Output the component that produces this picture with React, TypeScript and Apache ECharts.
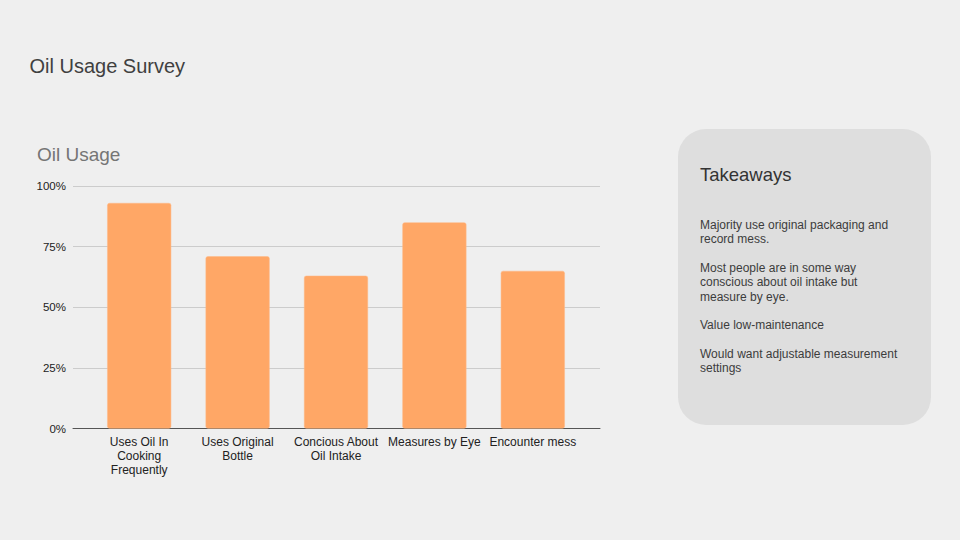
import React, { useEffect, useRef } from "react";
import * as echarts from "echarts";

const categories = [
  "Uses Oil In\nCooking\nFrequently",
  "Uses Original\nBottle",
  "Concious About\nOil Intake",
  "Measures by Eye",
  "Encounter mess",
];
const values = [0.93, 0.71, 0.63, 0.85, 0.65];
const slideTitle = "Oil Usage Survey";
const chartTitle = "Oil Usage";
const boxTitle = "Takeaways";
const takeaways = [
  "Majority use original packaging and\nrecord mess.",
  "Most people are in some way\nconscious about oil intake but\nmeasure by eye.",
  "Value low-maintenance",
  "Would want adjustable measurement\nsettings",
];

const FONT = "Liberation Sans, Arial, sans-serif";

export default function App() {
  const ref = useRef<HTMLDivElement>(null);
  useEffect(() => {
    if (!ref.current) return;
    const chart = echarts.init(ref.current, undefined, { renderer: "svg" });
    const top = 186;
    const bottom = 540 - 428.5;
    chart.setOption({
      animation: false,
      backgroundColor: "#efefef",
      textStyle: { fontFamily: FONT },
      grid: [
        { left: 73, right: 360, top, bottom },
        { left: 90, right: 378, top, bottom },
      ],
      xAxis: [
        {
          gridIndex: 0,
          type: "category",
          data: categories,
          axisLabel: { show: false },
          axisTick: { show: false },
          axisLine: { lineStyle: { color: "#555", width: 1 } },
        },
        {
          gridIndex: 1,
          type: "category",
          data: categories,
          axisTick: { show: false },
          axisLine: { show: false },
          axisLabel: {
            color: "#222",
            fontSize: 12,
            fontFamily: FONT,
            lineHeight: 14,
            margin: 6.5,
            interval: 0,
          },
        },
      ],
      yAxis: [
        {
          gridIndex: 0,
          type: "value",
          min: 0,
          max: 1,
          interval: 0.25,
          axisLabel: {
            color: "#222",
            fontSize: 11.5,
            fontFamily: FONT,
            margin: 7,
            formatter: (v: number) => Math.round(v * 100) + "%",
          },
          splitLine: { lineStyle: { color: "#cccccc", width: 1 } },
          axisLine: { show: false },
          axisTick: { show: false },
        },
        {
          gridIndex: 1,
          type: "value",
          min: 0,
          max: 1,
          show: false,
          splitLine: { show: false },
        },
      ],
      series: [
        {
          type: "bar",
          xAxisIndex: 1,
          yAxisIndex: 1,
          data: values,
          barWidth: 64,
          itemStyle: {
            color: "#ffa766",
            borderRadius: 2,
            borderColor: "#ffb987",
            borderWidth: 0.5,
          },
        },
      ],
      graphic: [
        {
          type: "text",
          x: 29.5,
          y: 65.5,
          style: {
            text: slideTitle,
            fontSize: 20,
            fill: "#404040",
            fontFamily: FONT,
            verticalAlign: "middle",
          },
        },
        {
          type: "text",
          x: 37,
          y: 154.5,
          style: {
            text: chartTitle,
            fontSize: 19,
            fill: "#757575",
            fontFamily: FONT,
            verticalAlign: "middle",
          },
        },
        {
          type: "rect",
          shape: { x: 678, y: 129, width: 253, height: 296, r: 28 },
          style: { fill: "#dedede" },
        },
        {
          type: "text",
          x: 700,
          y: 174,
          style: {
            text: boxTitle,
            fontSize: 18.5,
            fill: "#333",
            fontFamily: FONT,
            verticalAlign: "middle",
          },
        },
        {
          type: "text",
          x: 700,
          y: 218,
          style: {
            text: takeaways.join("\n\n"),
            fontSize: 12,
            lineHeight: 14.3,
            fill: "#3c3c3c",
            fontFamily: FONT,
            verticalAlign: "top",
          },
        },
      ],
    });
    return () => chart.dispose();
  }, []);
  return (
    <div
      ref={ref}
      style={{ position: "fixed", left: 0, top: 0, width: 960, height: 540 }}
    />
  );
}
